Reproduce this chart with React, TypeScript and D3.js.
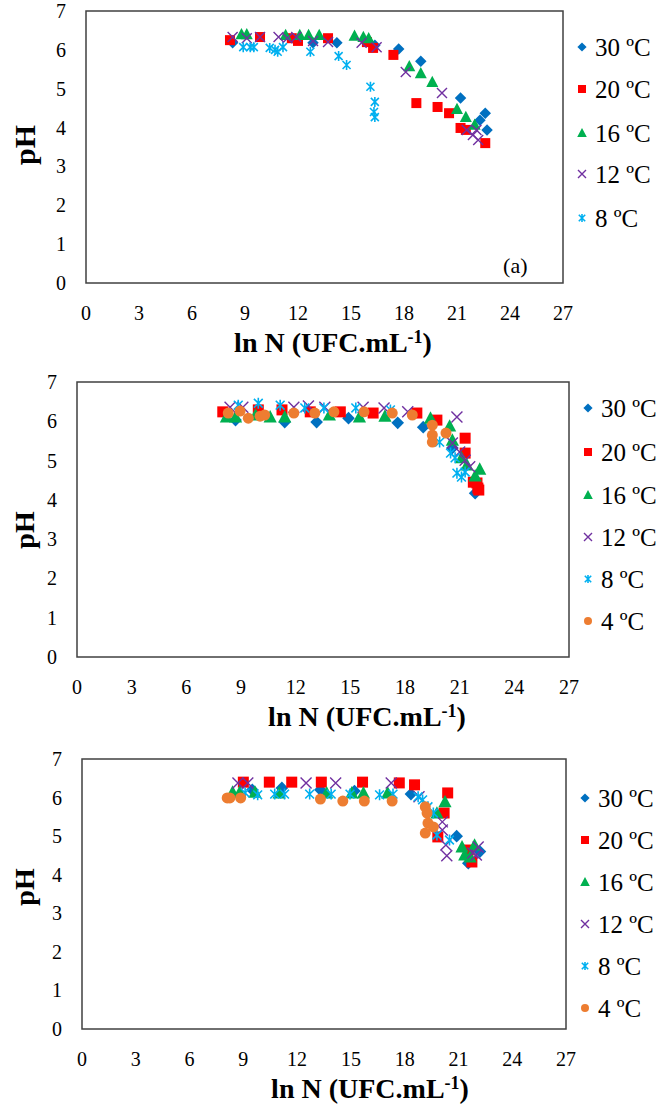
import React from "react";
import * as d3 from "d3";

// ---------- DATA ----------
const xTicks = [0, 3, 6, 9, 12, 15, 18, 21, 24, 27];
const yTicks = [0, 1, 2, 3, 4, 5, 6, 7];
const seriesNames = ["30 ºC", "20 ºC", "16 ºC", "12 ºC", "8 ºC", "4 ºC"];

// Panel (a)
const a30: [number, number][] = [[8.3,6.18],[12.85,6.18],[14.2,6.18],[16.35,6.12],[17.7,6.02],[18.95,5.71],[21.2,4.76],[22.3,4.19],[22.6,4.37],[22.7,3.94]];
const a20: [number, number][] = [[8.15,6.25],[9.85,6.33],[11.65,6.3],[12.0,6.23],[13.7,6.3],[15.9,6.2],[16.25,6.05],[17.4,5.87],[18.7,4.63],[19.9,4.53],[20.55,4.37],[21.2,3.99],[21.5,3.94],[22.6,3.6]];
const a16: [number, number][] = [[8.8,6.4],[9.1,6.4],[11.3,6.38],[12.1,6.38],[12.6,6.38],[13.2,6.38],[15.2,6.36],[15.7,6.33],[16.0,6.3],[18.3,5.58],[18.95,5.4],[19.6,5.17],[21.0,4.48],[21.5,4.27],[22.0,4.07]];
const a12: [number, number][] = [[8.3,6.33],[9.1,6.3],[9.85,6.33],[10.9,6.33],[11.4,6.3],[11.9,6.33],[12.85,6.23],[13.7,6.2],[15.6,6.18],[16.45,6.07],[18.1,5.43],[20.15,4.89],[21.55,3.94],[21.9,3.81],[22.1,3.94],[22.2,3.68]];
const a8: [number, number][] = [[8.9,6.07],[9.3,6.07],[9.5,6.07],[10.4,6.05],[10.7,6.0],[10.85,5.95],[11.15,6.07],[12.7,5.95],[14.3,5.84],[14.75,5.61],[16.1,5.05],[16.35,4.66],[16.3,4.4],[16.35,4.27]];

// Panel (b)
const b30: [number, number][] = [[8.7,6.03],[11.4,5.98],[13.15,5.98],[14.9,6.08],[17.6,5.96],[19.0,5.85],[20.6,5.32],[21.85,4.17]];
const b20: [number, number][] = [[8.0,6.24],[9.95,6.29],[11.25,6.29],[12.8,6.24],[14.45,6.24],[16.25,6.21],[18.65,6.21],[19.75,6.03],[21.3,5.57],[21.3,5.19],[21.75,4.45],[21.95,4.43],[22.0,4.3],[22.05,4.25]];
const b16: [number, number][] = [[8.2,6.11],[8.7,6.11],[9.8,6.16],[10.6,6.11],[11.4,6.11],[13.85,6.16],[15.5,6.11],[16.9,6.13],[19.4,6.08],[20.45,5.88],[20.6,5.52],[21.1,5.07],[21.4,4.89],[21.85,4.61],[22.1,4.78]];
const b12: [number, number][] = [[8.4,6.36],[9.1,6.36],[11.9,6.36],[12.7,6.39],[13.6,6.36],[15.7,6.36],[16.85,6.34],[18.15,6.24],[20.85,6.11],[20.6,5.45],[21.0,5.22],[21.3,5.01],[21.55,4.84]];
const b8: [number, number][] = [[8.85,6.41],[9.95,6.46],[11.15,6.41],[12.5,6.34],[13.55,6.34],[15.3,6.34],[17.2,6.29],[19.9,5.47],[20.5,5.19],[20.75,5.07],[20.85,4.68],[21.1,4.58],[21.3,4.71]];
const b4: [number, number][] = [[8.3,6.21],[8.95,6.26],[9.4,6.08],[10.05,6.13],[10.3,6.16],[11.9,6.21],[13.05,6.21],[14.1,6.24],[15.75,6.24],[17.3,6.21],[18.4,6.16],[19.5,5.9],[19.5,5.65],[19.5,5.47],[20.25,5.7]];

// Panel (c)
const c30: [number, number][] = [[9.5,6.2],[11.15,6.25],[13.3,6.2],[15.2,6.17],[18.35,6.09],[20.9,5.0],[21.55,4.3],[22.2,4.6]];
const c20: [number, number][] = [[9.0,6.4],[10.45,6.4],[11.7,6.4],[13.35,6.4],[15.65,6.4],[17.7,6.38],[18.55,6.33],[20.4,6.12],[20.2,5.6],[19.85,4.98],[21.55,4.64],[21.75,4.33]];
const c16: [number, number][] = [[8.4,6.14],[8.8,6.14],[9.65,6.14],[11.0,6.12],[13.65,6.12],[15.05,6.12],[15.7,6.12],[17.05,6.12],[20.25,5.89],[19.8,5.6],[21.2,4.72],[21.35,4.51],[21.65,4.46],[21.9,4.77]];
const c12: [number, number][] = [[8.7,6.38],[9.25,6.38],[12.5,6.38],[14.15,6.38],[17.25,6.38],[18.8,6.02],[20.1,5.37],[20.1,5.16],[20.3,4.77],[20.35,4.49],[21.8,4.56],[22.0,4.51],[22.1,4.72]];
const c8: [number, number][] = [[9.1,6.12],[9.8,6.07],[10.75,6.09],[11.3,6.09],[12.7,6.09],[13.9,6.09],[14.95,6.09],[16.6,6.07],[17.35,6.09],[18.75,6.02],[19.0,5.94],[19.3,5.76],[19.6,5.6],[19.8,5.03],[20.5,4.9]];
const c4: [number, number][] = [[8.1,5.99],[8.25,5.99],[8.85,5.99],[13.3,5.96],[14.55,5.91],[15.75,5.91],[17.3,5.91],[19.15,5.76],[19.25,5.6],[19.3,5.34],[19.6,5.24],[19.15,5.08]];

// ---------- STYLE ----------
const COLORS = ["#0070C0", "#FF0000", "#00B050", "#7030A0", "#00B0F0", "#ED7D31"];
const SHAPES = ["diamond", "square", "triangle", "x", "star", "circle"];
const FONT = "'Liberation Serif', 'Times New Roman', serif";

type Panel = {
  left: number; right: number; top: number; bottom: number;
  series: [number, number][][];
  legendX: number; legendY: number[];
  titleX: number; phY: number; phSize: number;
  label?: string; ms: number;
};

const panels: Panel[] = [
  { left: 86, right: 563, top: 11, bottom: 283, series: [a30, a20, a16, a12, a8],
    legendX: 582, legendY: [47, 89, 133, 174, 218], titleX: 333, phY: 145, phSize: 30, label: "(a)", ms: 5 },
  { left: 77, right: 569, top: 382, bottom: 657, series: [b30, b20, b16, b12, b8, b4],
    legendX: 588, legendY: [408, 452, 495, 537, 579, 621], titleX: 367, phY: 530, phSize: 28, ms: 5.5 },
  { left: 82, right: 566, top: 759, bottom: 1029, series: [c30, c20, c16, c12, c8, c4],
    legendX: 585, legendY: [798, 840, 882, 924, 966, 1008], titleX: 370, phY: 887, phSize: 28, ms: 5.5 },
];

function Marker({ shape, color, x, y, s }: { shape: string; color: string; x: number; y: number; s: number }) {
  switch (shape) {
    case "diamond":
      return <path d={`M${x},${y - s * 1.15}L${x + s * 1.15},${y}L${x},${y + s * 1.15}L${x - s * 1.15},${y}Z`} fill={color} />;
    case "square":
      return <rect x={x - s} y={y - s} width={2 * s} height={2 * s} fill={color} />;
    case "triangle":
      return <path d={`M${x},${y - s * 1.25}L${x + s * 1.2},${y + s}L${x - s * 1.2},${y + s}Z`} fill={color} />;
    case "x":
      return <path d={`M${x - s},${y - s}L${x + s},${y + s}M${x - s},${y + s}L${x + s},${y - s}`} stroke={color} strokeWidth={1.4} fill="none" />;
    case "star":
      return <path d={`M${x - s * 0.8},${y - s * 0.8}L${x + s * 0.8},${y + s * 0.8}M${x - s * 0.8},${y + s * 0.8}L${x + s * 0.8},${y - s * 0.8}M${x},${y - s}L${x},${y + s}`} stroke={color} strokeWidth={1.6} fill="none" />;
    default:
      return <circle cx={x} cy={y} r={s} fill={color} />;
  }
}

function PanelView({ p }: { p: Panel }) {
  const xs = d3.scaleLinear().domain([0, 27]).range([p.left, p.right]);
  const ys = d3.scaleLinear().domain([0, 7]).range([p.bottom, p.top]);
  return (
    <g>
      <rect x={p.left} y={p.top} width={p.right - p.left} height={p.bottom - p.top} fill="white" stroke="#404040" strokeWidth={1.5} />
      {yTicks.map((t) => (
        <text key={"y" + t} x={p.left - 20} y={ys(t)} dy="0.35em" textAnchor="end" fontSize={20} fontFamily={FONT}>{t}</text>
      ))}
      {xTicks.map((t) => (
        <text key={"x" + t} x={xs(t)} y={p.bottom + 30} dy="0.35em" textAnchor="middle" fontSize={20} fontFamily={FONT}>{t}</text>
      ))}
      <text x={p.titleX} y={p.bottom + 59} dy="0.35em" textAnchor="middle" fontSize={28} fontWeight="bold" fontFamily={FONT}>
        ln N (UFC.mL<tspan fontSize={18} dy="-0.5em">-1</tspan><tspan dy="0.32em">)</tspan>
      </text>
      <text transform={`translate(24,${p.phY}) rotate(-90)`} dy="0.35em" textAnchor="middle" fontSize={p.phSize} fontWeight="bold" fontFamily={FONT}>pH</text>
      {p.label && (
        <text x={xs(24.3)} y={ys(0.45)} dy="0.35em" textAnchor="middle" fontSize={22} fontFamily={FONT}>{p.label}</text>
      )}
      {p.series.map((pts, si) => (
        <g key={si}>
          {pts.map((d, i) => (
            <Marker key={i} shape={SHAPES[si]} color={COLORS[si]} x={xs(d[0])} y={ys(d[1])} s={p.ms} />
          ))}
        </g>
      ))}
      {p.series.map((_, si) => (
        <g key={"l" + si}>
          <Marker shape={SHAPES[si]} color={COLORS[si]} x={p.legendX} y={p.legendY[si]} s={4} />
          <text x={p.legendX + 13} y={p.legendY[si]} dy="0.35em" fontSize={25} fontFamily={FONT}>{seriesNames[si]}</text>
        </g>
      ))}
    </g>
  );
}

export default function App() {
  return (
    <svg width={662} height={1106} style={{ position: "absolute", left: 0, top: 0, background: "white" }}>
      {panels.map((p, i) => <PanelView key={i} p={p} />)}
    </svg>
  );
}
